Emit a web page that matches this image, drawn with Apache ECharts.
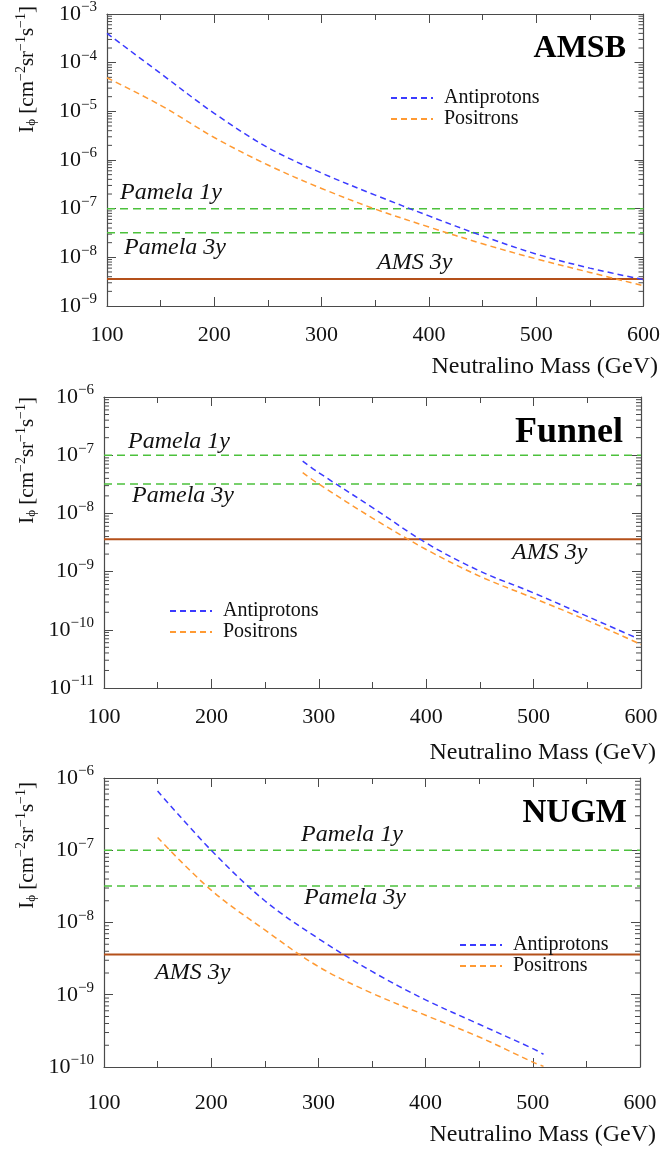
<!DOCTYPE html>
<html><head><meta charset="utf-8">
<script src="https://cdn.jsdelivr.net/npm/echarts@6/dist/echarts.min.js"></script>
<style>html,body{margin:0;padding:0;background:#fff}#c{width:663px;height:1150px}</style>
</head><body><div id="c"></div>
<script>
// ---------- data ----------
const massRange = [100, 600];
const massStep = 100;
const panelTitles = ['AMSB', 'Funnel', 'NUGM'];
const yDecades = [[-9, -3], [-11, -6], [-10, -6]];
const seriesNames = ['Antiprotons', 'Positrons'];
const pamela1y = 1e-7;
const pamela3y = 3.2e-8;
const ams3y = 3.6e-9;
const xTitle = 'Neutralino Mass (GeV)';

const amsbMass = [100, 150, 200, 250, 300, 350, 400, 450, 500, 550, 600];
const amsbAntiprotons = [4.0e-4, 6.0e-5, 9.1e-6, 1.8e-6, 5.4e-7, 1.9e-7, 7.1e-8, 2.75e-8, 1.17e-8, 6.0e-9, 3.5e-9];
const amsbPositrons = [4.9e-5, 1.33e-5, 2.9e-6, 7.9e-7, 2.6e-7, 9.8e-8, 4.2e-8, 1.9e-8, 9.3e-9, 4.9e-9, 2.6e-9];

const funnelAntiMass = [285, 300, 350, 400, 450, 500, 550, 597];
const funnelAntiprotons = [7.9e-8, 5.0e-8, 1.26e-8, 3.1e-9, 1.02e-9, 4.3e-10, 1.7e-10, 7.1e-11];
const funnelPosMass = [285, 300, 350, 400, 450, 500, 550, 600];
const funnelPositrons = [5.0e-8, 3.2e-8, 8.3e-9, 2.4e-9, 8.3e-10, 3.5e-10, 1.45e-10, 5.6e-11];

const nugmMass = [150, 200, 250, 300, 350, 400, 450, 500, 510];
const nugmAntiprotons = [6.6e-7, 1.0e-7, 2.0e-8, 6.0e-9, 2.1e-9, 8.5e-10, 3.9e-10, 1.8e-10, 1.5e-10];
const nugmPositrons = [1.5e-7, 2.8e-8, 7.9e-9, 2.45e-9, 1.05e-9, 5.2e-10, 2.6e-10, 1.17e-10, 1.02e-10];

// ---------- styling / layout ----------
const serif = "'Liberation Serif','DejaVu Serif',serif";
const axisColor = '#4a4a4a';
const blue = '#3b3bff', orange = '#ff9a33', green = '#4cc13c', brown = '#b4501a';
const grids = [
  {left: 107, right: 16, top: 13, height: 293},
  {left: 104, right: 22, top: 397, height: 291},
  {left: 104, right: 23, top: 778, height: 289}
];
const xLabelMargin = [18, 18, 25];

function pairs(xs, ys) { return xs.map((x, i) => [x, ys[i]]); }
function level(v) { return [[massRange[0], v], [massRange[1], v]]; }
function supLabel(v) {
  const e = Math.round(Math.log10(v));
  return '{b|10}{s|' + (e < 0 ? '\u2212' : '') + Math.abs(e) + '}';
}
function minorVals(lo, hi) {
  const out = [];
  for (let e = lo; e < hi; e++) for (let m = 2; m <= 9; m++) out.push([massRange[0], m * Math.pow(10, e)]);
  return out;
}

const xAxes = [], yAxes = [], series = [];
const curves = [
  [pairs(amsbMass, amsbAntiprotons), pairs(amsbMass, amsbPositrons)],
  [pairs(funnelAntiMass, funnelAntiprotons), pairs(funnelPosMass, funnelPositrons)],
  [pairs(nugmMass, nugmAntiprotons), pairs(nugmMass, nugmPositrons)]
];

grids.forEach((g, i) => {
  const base = {
    type: 'value', gridIndex: i, min: massRange[0], max: massRange[1], interval: massStep,
    axisLine: {onZero: false, lineStyle: {color: axisColor, width: 1.2}},
    axisTick: {inside: true, length: 9, lineStyle: {color: axisColor}},
    minorTick: {show: true, splitNumber: 2, length: 6, lineStyle: {color: axisColor}},
    splitLine: {show: false}, minorSplitLine: {show: false}
  };
  xAxes.push(Object.assign({}, base, {position: 'bottom',
    axisLabel: {fontFamily: serif, fontSize: 22, color: '#111', margin: xLabelMargin[i], showMinLabel: true, showMaxLabel: true}}));
  xAxes.push(Object.assign({}, base, {position: 'top', axisLabel: {show: false}}));
  const yb = {
    type: 'log', logBase: 10, gridIndex: i,
    min: Math.pow(10, yDecades[i][0]), max: Math.pow(10, yDecades[i][1]), interval: 1,
    axisLine: {lineStyle: {color: axisColor, width: 1.2}},
    axisTick: {inside: true, length: 9, lineStyle: {color: axisColor}},
    splitLine: {show: false}
  };
  yAxes.push(Object.assign({}, yb, {position: 'left',
    axisLabel: {formatter: supLabel, margin: 10, showMinLabel: true, showMaxLabel: true,
      rich: {b: {fontFamily: serif, fontSize: 22, color: '#111'},
             s: {fontFamily: serif, fontSize: 15, color: '#111', padding: [0, 0, 13, 0]}}}}));
  yAxes.push(Object.assign({}, yb, {position: 'right', axisLabel: {show: false}}));

  const xi = 2 * i, yi = 2 * i;
  series.push({type: 'custom', xAxisIndex: xi, yAxisIndex: yi, silent: true, z: 1,
    data: minorVals(yDecades[i][0], yDecades[i][1]),
    renderItem: (params, api) => {
      const y = api.coord([massRange[0], api.value(1)])[1];
      const cs = params.coordSys;
      return {type: 'group', children: [
        {type: 'line', shape: {x1: cs.x, y1: y, x2: cs.x + 5, y2: y}, style: {stroke: axisColor, lineWidth: 1}},
        {type: 'line', shape: {x1: cs.x + cs.width - 5, y1: y, x2: cs.x + cs.width, y2: y}, style: {stroke: axisColor, lineWidth: 1}}
      ]};
    }});
  series.push({type: 'line', name: 'Pamela 1y', xAxisIndex: xi, yAxisIndex: yi, data: level(pamela1y), symbol: 'none', silent: true,
    lineStyle: {color: green, width: 1.5, type: [8, 5]}});
  series.push({type: 'line', name: 'Pamela 3y', xAxisIndex: xi, yAxisIndex: yi, data: level(pamela3y), symbol: 'none', silent: true,
    lineStyle: {color: green, width: 1.5, type: [8, 5]}});
  series.push({type: 'line', name: 'AMS 3y', xAxisIndex: xi, yAxisIndex: yi, data: level(ams3y), symbol: 'none', silent: true,
    lineStyle: {color: brown, width: 2}});
  series.push({type: 'line', name: seriesNames[0], xAxisIndex: xi, yAxisIndex: yi, data: curves[i][0], symbol: 'none',
    smooth: 0.35, color: blue, lineStyle: {color: blue, width: 1.5, type: [6, 4]}});
  series.push({type: 'line', name: seriesNames[1], xAxisIndex: xi, yAxisIndex: yi, data: curves[i][1], symbol: 'none',
    smooth: 0.35, color: orange, lineStyle: {color: orange, width: 1.5, type: [6, 4]}});
});

const legendPos = [{left: 390, top: 88}, {left: 169, top: 601}, {left: 459, top: 935}];
const legends = legendPos.map(p => ({
  data: seriesNames, left: p.left, top: p.top, orient: 'vertical', itemWidth: 42, itemHeight: 10, itemGap: 1,
  selectedMode: false, padding: 0,
  itemStyle: {opacity: 0},
  textStyle: {fontFamily: serif, fontSize: 20, color: '#111', padding: [0, 0, 0, 6]}
}));

const italic = {fontFamily: serif, fontSize: 24, fontStyle: 'italic', fill: '#111', verticalAlign: 'middle'};
const annotations = [
  ['Pamela 1y', 120, 193], ['Pamela 3y', 124, 248], ['AMS 3y', 377, 263],
  ['Pamela 1y', 128, 442], ['Pamela 3y', 132, 496], ['AMS 3y', 512, 553],
  ['Pamela 1y', 301, 835], ['Pamela 3y', 304, 898], ['AMS 3y', 155, 973]
];
const titlePos = [[626, 49], [623, 433], [627, 813]];
const titleSizes = [32, 36, 33];
const xTitlePos = [[658, 367], [656, 753], [656, 1135]];
const yTitleTop = [6, 397, 782];

const graphic = [];
annotations.forEach(a => graphic.push({type: 'text', x: a[1], y: a[2], style: Object.assign({text: a[0]}, italic)}));
titlePos.forEach((p, i) => graphic.push({type: 'text', x: p[0], y: p[1],
  style: {text: panelTitles[i], fontFamily: serif, fontSize: titleSizes[i], fontWeight: 'bold', fill: '#000', align: 'right', verticalAlign: 'middle'}}));
xTitlePos.forEach(p => graphic.push({type: 'text', x: p[0], y: p[1],
  style: {text: xTitle, fontFamily: serif, fontSize: 24, fill: '#111', align: 'right', verticalAlign: 'middle'}}));
yTitleTop.forEach(t => graphic.push({type: 'text', x: 27, y: t, rotation: Math.PI / 2,
  style: {text: '{m|I}{sub|\u03d5}{m| [cm}{sup|\u22122}{m|sr}{sup|\u22121}{m|s}{sup|\u22121}{m|]}',
    align: 'right', verticalAlign: 'middle',
    rich: {m: {fontFamily: serif, fontSize: 21, fill: '#111'},
           sub: {fontFamily: serif, fontSize: 13, fill: '#111', padding: [10, 0, 0, 0]},
           sup: {fontFamily: serif, fontSize: 14, fill: '#111', padding: [0, 0, 11, 0]}}}}));

const chart = echarts.init(document.getElementById('c'), null, {renderer: 'canvas'});
chart.setOption({
  animation: false,
  backgroundColor: '#fff',
  grid: grids,
  xAxis: xAxes,
  yAxis: yAxes,
  legend: legends,
  series: series,
  graphic: graphic
});
</script>
</body></html>
